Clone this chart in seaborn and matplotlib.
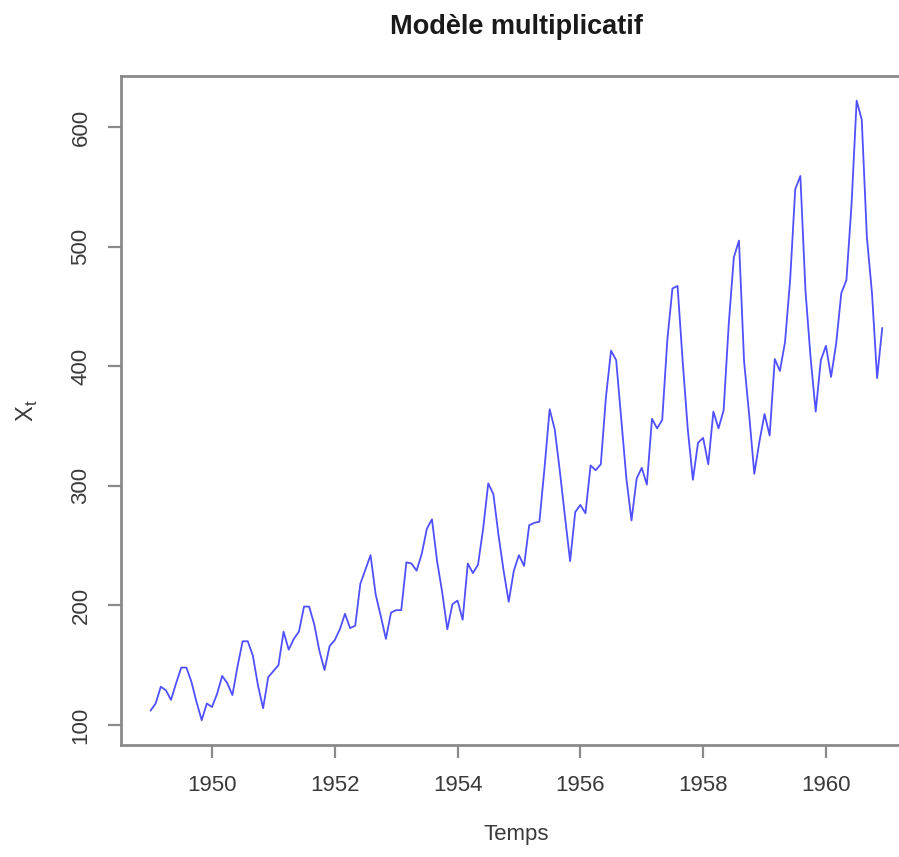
import numpy as np
import pandas as pd
import matplotlib
matplotlib.use("Agg")
import matplotlib.pyplot as plt
import seaborn as sns

# Monthly airline passengers (thousands), 1949-1960
start_year = 1949
passengers = [
    112, 118, 132, 129, 121, 135, 148, 148, 136, 119, 104, 118,
    115, 126, 141, 135, 125, 149, 170, 170, 158, 133, 114, 140,
    145, 150, 178, 163, 172, 178, 199, 199, 184, 162, 146, 166,
    171, 180, 193, 181, 183, 218, 230, 242, 209, 191, 172, 194,
    196, 196, 236, 235, 229, 243, 264, 272, 237, 211, 180, 201,
    204, 188, 235, 227, 234, 264, 302, 293, 259, 229, 203, 229,
    242, 233, 267, 269, 270, 315, 364, 347, 312, 274, 237, 278,
    284, 277, 317, 313, 318, 374, 413, 405, 355, 306, 271, 306,
    315, 301, 356, 348, 355, 422, 465, 467, 404, 347, 305, 336,
    340, 318, 362, 348, 363, 435, 491, 505, 404, 359, 310, 337,
    360, 342, 406, 396, 420, 472, 548, 559, 463, 407, 362, 405,
    417, 391, 419, 461, 472, 535, 622, 606, 508, 461, 390, 432,
]
x_ticks = [1950, 1952, 1954, 1956, 1958, 1960]
y_ticks = [100, 200, 300, 400, 500, 600]

df = pd.DataFrame({
    "Temps": start_year + np.arange(len(passengers)) / 12.0,
    "Xt": passengers,
})

sns.set_theme(style="white")
plt.rcParams["font.family"] = ["Liberation Sans", "DejaVu Sans"]
plt.rcParams["mathtext.fontset"] = "custom"
plt.rcParams["mathtext.rm"] = "Liberation Sans"

fig = plt.figure(figsize=(8.99, 8.57), dpi=100)
ax = fig.add_axes([0.1349, 0.1307, 0.879, 0.7808])

sns.lineplot(data=df, x="Temps", y="Xt", ax=ax, color="#5050ff", linewidth=1.3)

# R-style 4% padding around the data range
t0, t1 = df["Temps"].min(), df["Temps"].max()
y0, y1 = df["Xt"].min(), df["Xt"].max()
px, py = 0.04 * (t1 - t0), 0.04 * (y1 - y0)
ax.set_xlim(t0 - px, t1 + px)
ax.set_ylim(y0 - py, y1 + py)

ax.set_xticks(x_ticks)
ax.set_yticks(y_ticks)
ax.set_xticklabels([str(v) for v in x_ticks])
ax.set_yticklabels([str(v) for v in y_ticks], rotation=90, va="center")

axis_grey = "#8a8a8a"
for s in ax.spines.values():
    s.set_color(axis_grey)
    s.set_linewidth(2.0)
ax.tick_params(axis="both", which="major", direction="out", length=9.5, width=1.6,
               color=axis_grey, labelsize=16, labelcolor="#3a3a3a", pad=12,
               bottom=True, left=True)

ax.set_xlabel("Temps", fontsize=16, color="#3a3a3a", labelpad=20)
ax.set_ylabel(r"$\mathrm{X}_\mathrm{t}$", fontsize=17, color="#3a3a3a", labelpad=22)
ax.set_title("Modèle multiplicatif", fontsize=19.5, fontweight="bold",
             color="#1a1a1a", pad=30)

fig.savefig("out.png", dpi=100)
